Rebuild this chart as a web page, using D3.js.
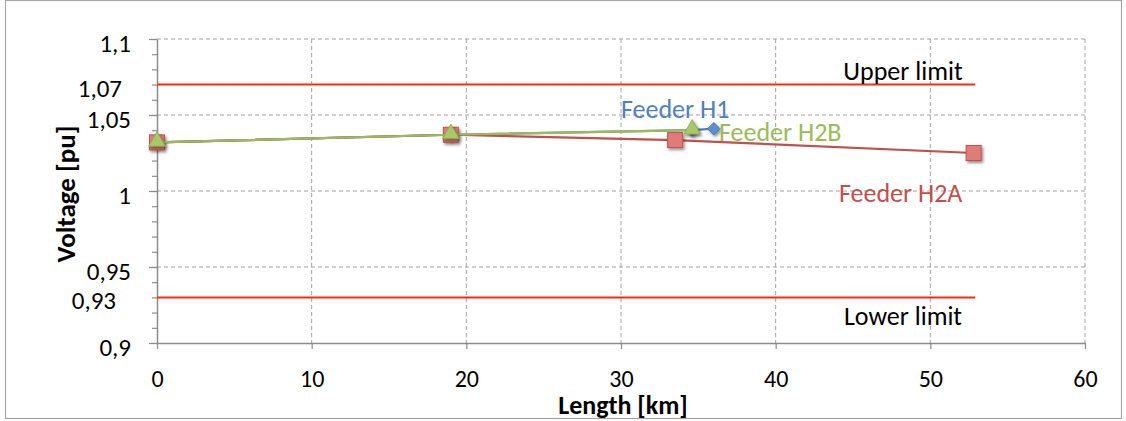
<!DOCTYPE html>
<html>
<head>
<meta charset="utf-8">
<script src="https://cdn.jsdelivr.net/npm/d3@7"></script>
<style>
  html, body { margin: 0; padding: 0; background: #fff; }
  svg { display: block; }
  text { font-family: Carlito, "Liberation Sans Narrow", "Liberation Sans", sans-serif; }
</style>
</head>
<body>
<svg id="chart" width="1126" height="421"></svg>
<script>
// Feeder voltage profiles along the line
const feederH1Km   = [0, 19, 34.6, 36];
const feederH1Pu   = [1.032, 1.037, 1.040, 1.041];
const feederH2AKm  = [0, 19, 33.5, 52.8];
const feederH2APu  = [1.032, 1.037, 1.0335, 1.025];
const feederH2BKm  = [0, 19, 34.6];
const feederH2BPu  = [1.032, 1.037, 1.040];

// Statutory voltage band
const upperLimit = 1.07;
const lowerLimit = 0.93;
const limitSpanKm = [0, 52.9];

const xTicks = [0, 10, 20, 30, 40, 50, 60];
const yGridTicks = [0.9, 0.95, 1, 1.05, 1.1];
const yLabelTicks = [0.9, 0.95, 1, 1.05, 1.1];
const yLimitLabels = [0.93, 1.07];
const yMinorTicks = d3.range(0, 21).map(i => 0.9 + i * 0.01);

(function draw() {
const svg = d3.select("#chart");
const pL = 157, pR = 1085, pT = 39, pB = 343;

// outer frame
svg.append("rect").attr("x", 5.5).attr("y", 0.5).attr("width", 1116).attr("height", 418)
  .attr("fill", "#fff").attr("stroke", "#a6a6a6").attr("stroke-width", 1.2);

const x = d3.scaleLinear().domain([0, 60]).range([pL, pR]);
const y = d3.scaleLinear().domain([0.9, 1.1]).range([pB, pT]);

const fmt = v => d3.format("~g")(+v.toFixed(2)).replace(".", ",");

const defs = svg.append("defs");
const sh = defs.append("filter").attr("id", "shadow").attr("x", "-50%").attr("y", "-50%").attr("width", "200%").attr("height", "200%");
sh.append("feDropShadow").attr("dx", 1.5).attr("dy", 2).attr("stdDeviation", 1.4)
  .attr("flood-color", "#000").attr("flood-opacity", 0.45);

// dashed grid
const grid = svg.append("g");
grid.selectAll(".gx").data(xTicks.slice(1)).join("line")
  .attr("x1", d => x(d)).attr("x2", d => x(d)).attr("y1", pT).attr("y2", pB)
  .attr("stroke", "#a0a0a0").attr("stroke-width", 1).attr("stroke-dasharray", "4,3");
grid.selectAll(".gy").data(yGridTicks.slice(1)).join("line")
  .attr("x1", pL).attr("x2", pR).attr("y1", d => y(d)).attr("y2", d => y(d))
  .attr("stroke", "#a0a0a0").attr("stroke-width", 1).attr("stroke-dasharray", "4,3");

// axes
const xAxis = svg.append("g").attr("transform", `translate(0,${pB})`)
  .call(d3.axisBottom(x).tickValues(xTicks).tickSize(6).tickSizeOuter(0).tickFormat(d => d));
xAxis.select(".domain").attr("stroke", "#8c8c8c").attr("stroke-width", 1.5);
xAxis.selectAll(".tick line").attr("stroke", "#8c8c8c").attr("stroke-width", 1.2);
xAxis.selectAll(".tick text").attr("font-size", 24).attr("fill", "#000")
  .attr("y", 0).attr("dy", 0).attr("transform", "translate(0,44)");

const yMinor = svg.append("g").attr("transform", `translate(${pL},0)`)
  .call(d3.axisLeft(y).tickValues(yMinorTicks).tickSize(5).tickFormat(""));
yMinor.select(".domain").remove();
yMinor.selectAll(".tick line").attr("stroke", "#8c8c8c").attr("stroke-width", 1.2);

const yAxis = svg.append("g").attr("transform", `translate(${pL},0)`)
  .call(d3.axisLeft(y).tickValues(yLabelTicks).tickSize(8).tickSizeOuter(0).tickFormat(fmt));
yAxis.select(".domain").attr("stroke", "#8c8c8c").attr("stroke-width", 1.5);
yAxis.selectAll(".tick line").attr("stroke", "#8c8c8c").attr("stroke-width", 1.2);
yAxis.selectAll(".tick text").attr("font-size", 25).attr("fill", "#000")
  .attr("x", -26).attr("dy", 0).attr("y", 12);

// labels for the limit values, set slightly apart from the regular tick labels
svg.append("g").selectAll("text").data(yLimitLabels).join("text")
  .attr("x", d => d === 1.07 ? 122 : 116).attr("y", d => y(d) + 12)
  .attr("text-anchor", "end").attr("font-size", 25).attr("fill", "#000").text(fmt);

// limit lines
const limits = [upperLimit, lowerLimit];
svg.append("g").selectAll("line").data(limits).join("line")
  .attr("x1", x(limitSpanKm[0])).attr("x2", x(limitSpanKm[1]))
  .attr("y1", d => y(d)).attr("y2", d => y(d))
  .attr("stroke", "#ff2a0a").attr("stroke-width", 2);

svg.append("text").attr("x", 903).attr("y", y(upperLimit) - 5).attr("text-anchor", "middle")
  .attr("font-size", 26).attr("fill", "#000").text("Upper limit");
svg.append("text").attr("x", 903).attr("y", y(lowerLimit) + 28).attr("text-anchor", "middle")
  .attr("font-size", 26).attr("fill", "#000").text("Lower limit");

const line = d3.line().x(d => x(d[0])).y(d => y(d[1]));
const zip = (a, b) => a.map((v, i) => [v, b[i]]);

const h1 = zip(feederH1Km, feederH1Pu);
const h2a = zip(feederH2AKm, feederH2APu);
const h2b = zip(feederH2BKm, feederH2BPu);

// Feeder H1 (blue, diamonds)
svg.append("path").datum(h1).attr("d", line).attr("fill", "none")
  .attr("stroke", "#4f81bd").attr("stroke-width", 2.2);
svg.append("g").selectAll("path").data(h1).join("path")
  .attr("d", d3.symbol(d3.symbolDiamond2, 100))
  .attr("transform", d => `translate(${x(d[0])},${y(d[1])})`)
  .attr("fill", "#5b8fd0").attr("stroke", "#3f6fae").attr("stroke-width", 0.8)
  .attr("filter", "url(#shadow)");

// Feeder H2A (red, squares)
svg.append("path").datum(h2a).attr("d", line).attr("fill", "none")
  .attr("stroke", "#c0504d").attr("stroke-width", 2.2);
svg.append("g").selectAll("rect").data(h2a).join("rect")
  .attr("x", d => x(d[0]) - 7.5).attr("y", d => y(d[1]) - 7.5).attr("width", 15).attr("height", 15)
  .attr("fill", "#e07b78").attr("stroke", "#c0504d").attr("stroke-width", 1)
  .attr("filter", "url(#shadow)");

// Feeder H2B (green, triangles)
svg.append("path").datum(h2b).attr("d", line).attr("fill", "none")
  .attr("stroke", "#9bbb59").attr("stroke-width", 2.2);
svg.append("g").selectAll("path").data(h2b).join("path")
  .attr("d", d3.symbol(d3.symbolTriangle, 120))
  .attr("transform", d => `translate(${x(d[0])},${y(d[1]) - 1})`)
  .attr("fill", "#a9c868").attr("stroke", "#8aa84a").attr("stroke-width", 0.8)
  .attr("filter", "url(#shadow)");

// series labels
svg.append("text").attr("x", 621).attr("y", 118).attr("font-size", 26).attr("fill", "#4f81bd").text("Feeder H1");
svg.append("text").attr("x", 719).attr("y", 141).attr("font-size", 26).attr("fill", "#9bbb59").text("Feeder H2B");
svg.append("text").attr("x", 839).attr("y", 202).attr("font-size", 26).attr("fill", "#c0504d").text("Feeder H2A");

// axis titles
svg.append("text").attr("x", 623).attr("y", 414).attr("text-anchor", "middle")
  .attr("font-size", 26).attr("font-weight", "bold").attr("fill", "#000").text("Length [km]");
svg.append("text").attr("transform", "translate(75,194) rotate(-90)").attr("text-anchor", "middle")
  .attr("font-size", 27).attr("font-weight", "bold").attr("fill", "#000").text("Voltage [pu]");
})();
</script>
</body>
</html>
